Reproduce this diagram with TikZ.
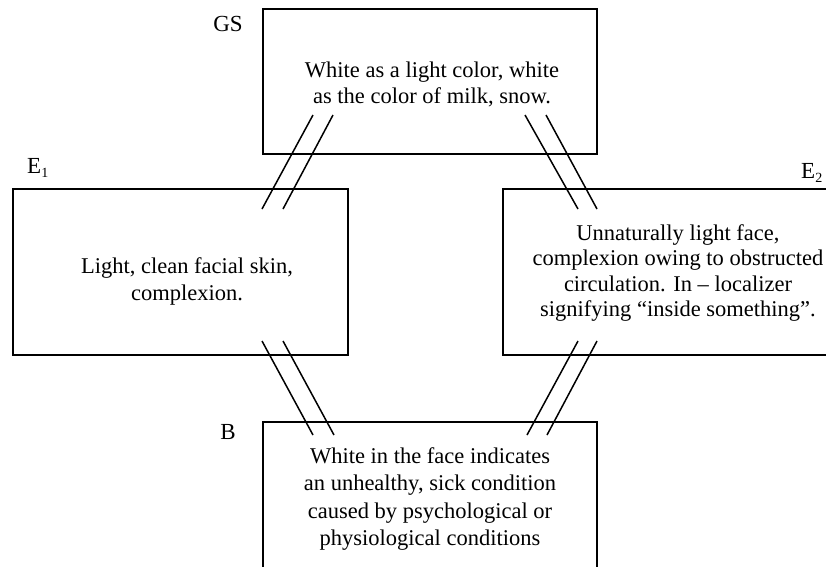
\documentclass[tikz,border=0pt]{standalone}
\usepackage{fontspec}
\setmainfont{Liberation Serif}
\begin{document}
\begin{tikzpicture}[x=1pt,y=-1pt,
  box/.style={draw, line width=1.8pt, inner sep=0pt, outer sep=0pt, rectangle},
  txt/.style={align=center, font=\fontsize{22.5}{26}\selectfont, inner sep=0pt},
  tag/.style={font=\fontsize{23}{26}\selectfont, inner sep=0pt},
  link/.style={line width=1.5pt}]
\useasboundingbox (0,0) rectangle (826,566);
\clip (0,0) rectangle (826,566);
\fill[white] (0,0) rectangle (826,566);

% the four frames
\node[box, minimum width=334pt, minimum height=145pt] (gs) at (430,81.5) {};
\node[box, minimum width=335pt, minimum height=166pt] (e1) at (180.5,272) {};
\node[box, minimum width=350pt, minimum height=166pt] (e2) at (678,272) {};
\node[box, minimum width=334pt, minimum height=152pt] (b) at (430,498) {};

% texts inside the frames
\node[txt] (gst) at (432,84) {White as a light color, white\\as the color of milk, snow.};
\node[txt, font=\fontsize{22.5}{27}\selectfont] (e1t) at (187,281) {Light, clean facial skin,\\complexion.};
\node[txt, font=\fontsize{22.5}{25.5}\selectfont] (e2t) at (678,273) {Unnaturally light face,\\complexion owing to obstructed\\circulation. In -- localizer\\signifying ``inside something''.};
\node[txt, font=\fontsize{22.5}{27.5}\selectfont] (bt) at (430,499) {White in the face indicates\\an unhealthy, sick condition\\caused by psychological or\\physiological conditions};

% frame labels
\node[tag] (gsl) at (228,24) {GS};
\node[tag, anchor=base west] (e1l) at (27,173) {E\raisebox{-0.45ex}{\fontsize{14}{14}\selectfont 1}};
\node[tag, anchor=base west] (e2l) at (801,178) {E\raisebox{-0.45ex}{\fontsize{14}{14}\selectfont 2}};
\node[tag] (bl) at (228,432) {B};

% double strokes joining neighbouring frames
\coordinate (ga1) at (313,115); \coordinate (ea1) at (262,209);
\coordinate (ga2) at (333,115); \coordinate (ea2) at (283,209);
\coordinate (gb1) at (525,115); \coordinate (eb1) at (578,209);
\coordinate (gb2) at (546,115); \coordinate (eb2) at (597,209);
\coordinate (ec1) at (262,341); \coordinate (bc1) at (313,435);
\coordinate (ec2) at (283,341); \coordinate (bc2) at (334,435);
\coordinate (ed1) at (578,341); \coordinate (bd1) at (527,435);
\coordinate (ed2) at (597,341); \coordinate (bd2) at (547,435);
\draw[link] (ga1) -- (ea1);
\draw[link] (ga2) -- (ea2);
\draw[link] (gb1) -- (eb1);
\draw[link] (gb2) -- (eb2);
\draw[link] (ec1) -- (bc1);
\draw[link] (ec2) -- (bc2);
\draw[link] (ed1) -- (bd1);
\draw[link] (ed2) -- (bd2);
\end{tikzpicture}
\end{document}
